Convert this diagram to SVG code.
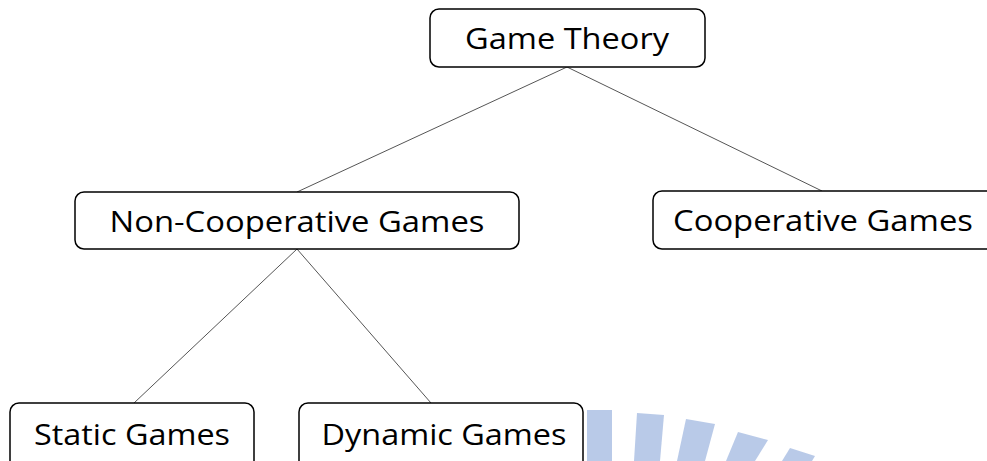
<svg xmlns="http://www.w3.org/2000/svg" width="987" height="461" viewBox="0 0 987 461">
<style>
.box{fill:#fff;stroke:#000;stroke-width:1.5}
.lbl{font-family:"Open Sans","Liberation Sans",sans-serif;font-size:30px;fill:#000;text-anchor:middle}
.edge{stroke:#555;stroke-width:1;fill:none}
.wm{fill:#a8bde2;opacity:0.8}
</style>
<rect width="987" height="461" fill="#fff"/>
<g id="watermark">
<polygon class="wm" points="587,410 612,410 612,461 587,461"/>
<polygon class="wm" points="637,413 664,415 660,461 634,461"/>
<polygon class="wm" points="686,419 715,424 705,461 677,461"/>
<polygon class="wm" points="738,432 768,440 755,461 726,461"/>
<polygon class="wm" points="790,448 815,456 812,461 782,461"/>
</g>
<g id="connectors">
<line class="edge" x1="567" y1="67" x2="297" y2="192"/>
<line class="edge" x1="567" y1="67" x2="822" y2="191"/>
<line class="edge" x1="297" y1="249" x2="134" y2="403"/>
<line class="edge" x1="297" y1="249" x2="431" y2="403"/>
</g>
<g id="game-theory">
<rect class="box" x="430" y="9" width="275" height="58" rx="9"/>
<text class="lbl" x="567" y="49" textLength="204" lengthAdjust="spacingAndGlyphs">Game Theory</text>
</g>
<g id="non-cooperative">
<rect class="box" x="75" y="192" width="444" height="57" rx="9"/>
<text class="lbl" x="297" y="232" textLength="375" lengthAdjust="spacingAndGlyphs">Non-Cooperative Games</text>
</g>
<g id="cooperative">
<rect class="box" x="653" y="191" width="350" height="58" rx="9"/>
<text class="lbl" x="823" y="231" textLength="300" lengthAdjust="spacingAndGlyphs">Cooperative Games</text>
</g>
<g id="static">
<rect class="box" x="10" y="403" width="244" height="72" rx="9"/>
<text class="lbl" x="132" y="445" textLength="196" lengthAdjust="spacingAndGlyphs">Static Games</text>
</g>
<g id="dynamic">
<rect class="box" x="299" y="403" width="284" height="72" rx="9"/>
<text class="lbl" x="444" y="445" textLength="245" lengthAdjust="spacingAndGlyphs">Dynamic Games</text>
</g>
</svg>
